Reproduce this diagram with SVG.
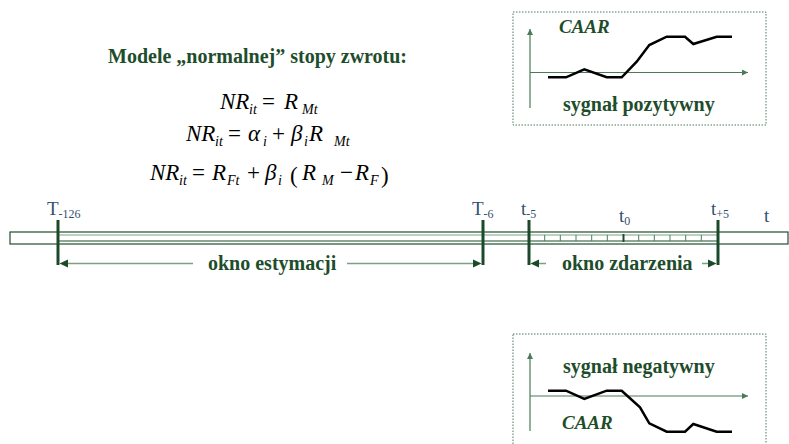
<svg xmlns="http://www.w3.org/2000/svg" width="789" height="444" viewBox="0 0 789 444">
<defs>
<style>
.g{fill:#1e4d2b;font-family:"Liberation Serif","Times New Roman",serif;font-weight:bold}
.m{fill:#000;font-family:"Liberation Serif","Times New Roman",serif;font-style:italic}
.ms{font-size:23px}
.up{font-style:normal}
.sb{font-size:14px}
.lb{fill:#34506f;font-family:"Liberation Serif","Times New Roman",serif}
.box{fill:none;stroke:#4a7a58;stroke-width:1;stroke-dasharray:1.5 1.5}
.ax{fill:none;stroke:#4a7a58;stroke-width:1.2}
.curve{fill:none;stroke:#000;stroke-width:2.5;stroke-linejoin:miter}
.mk{stroke:#1a4a2a;stroke-width:3}
.al{stroke:#7f9f85;stroke-width:1.5}
.ah{fill:#1a4a2a}
.bar{fill:none;stroke:#1f4f2f;stroke-width:1.2}
.bar2{fill:none;stroke:#7f9f85;stroke-width:1.2}
.tk{stroke:#4f7a5a;stroke-width:1}
</style>
<marker id="axa" markerWidth="8" markerHeight="8" refX="6" refY="3" orient="auto" markerUnits="userSpaceOnUse">
<path d="M0,0 L6,3 L0,6 z" fill="#4a7a58"/>
</marker>
</defs>

<g id="title">
<text class="g" x="108" y="63" font-size="20">Modele „normalnej” stopy zwrotu:</text>
</g>

<g id="eq1" class="m">
<text class="ms" x="220" y="109">NR</text>
<text class="sb" x="249" y="114">it</text>
<text class="ms up" x="262" y="109">=</text>
<text class="ms" x="284" y="109">R</text>
<text class="sb" x="302" y="114">Mt</text>
</g>

<g id="eq2" class="m">
<text class="ms" x="186" y="141">NR</text>
<text class="sb" x="215" y="146">it</text>
<text class="ms up" x="228" y="141">=</text>
<text class="ms" x="248" y="141">α</text>
<text class="sb" x="263" y="146">i</text>
<text class="ms up" x="272" y="141">+</text>
<text class="ms" x="291" y="141">β</text>
<text class="sb" x="304" y="146">i</text>
<text class="ms" x="309" y="141">R</text>
<text class="sb" x="334" y="146">Mt</text>
</g>

<g id="eq3" class="m">
<text class="ms" x="150" y="180">NR</text>
<text class="sb" x="179" y="185">it</text>
<text class="ms up" x="192" y="180">=</text>
<text class="ms" x="212" y="180">R</text>
<text class="sb" x="227" y="185">Ft</text>
<text class="ms up" x="247" y="180">+</text>
<text class="ms" x="265" y="180">β</text>
<text class="sb" x="278" y="185">i</text>
<text class="ms up" x="290" y="183" font-size="27">(</text>
<text class="ms" x="302" y="180">R</text>
<text class="sb" x="322" y="185">M</text>
<text class="ms up" x="340" y="180">−</text>
<text class="ms" x="355" y="180">R</text>
<text class="sb" x="370" y="185">F</text>
<text class="ms up" x="381" y="183" font-size="27">)</text>
</g>

<g id="pos-box">
<rect class="box" x="513" y="12" width="253" height="113"/>
<line class="ax" x1="530" y1="108" x2="530" y2="29" marker-end="url(#axa)"/>
<line class="ax" x1="530" y1="72.5" x2="748" y2="72.5" marker-end="url(#axa)"/>
<polyline class="curve" points="548,77.3 566,77.3 584.3,69.3 606.7,77.3 621.7,77.3 636.7,61.7 649.3,45 666.7,36.7 685,36.7 693.3,44 716.7,36.7 732,36.7"/>
<text class="g" x="559" y="33" font-size="19" font-style="italic">CAAR</text>
<text class="g" x="563" y="111" font-size="20">sygnał pozytywny</text>
</g>

<g id="neg-box">
<rect class="box" x="513" y="334" width="253" height="120"/>
<line class="ax" x1="530" y1="431" x2="530" y2="353" marker-end="url(#axa)"/>
<line class="ax" x1="530" y1="396" x2="748" y2="396" marker-end="url(#axa)"/>
<polyline class="curve" points="548,390.7 566,390.7 584.3,399 606.7,390.7 621.7,390.7 640,407.3 649.3,423.3 666.7,431.7 685,431.7 693.3,424 716.7,431.7 732,431.7"/>
<text class="g" x="563" y="373" font-size="20">sygnał negatywny</text>
<text class="g" x="562" y="429" font-size="19" font-style="italic">CAAR</text>
</g>

<g id="timeline">
<rect class="bar" x="10" y="232" width="778" height="12"/>
<line class="bar2" x1="58" y1="235" x2="718" y2="235"/>
<line class="bar" x1="58" y1="241" x2="718" y2="241"/>
<g class="tk">
<line x1="544.7" y1="235" x2="544.7" y2="241"/>
<line x1="560.3" y1="235" x2="560.3" y2="241"/>
<line x1="576" y1="235" x2="576" y2="241"/>
<line x1="591.7" y1="235" x2="591.7" y2="241"/>
<line x1="607.3" y1="235" x2="607.3" y2="241"/>
<line x1="638.7" y1="235" x2="638.7" y2="241"/>
<line x1="654.3" y1="235" x2="654.3" y2="241"/>
<line x1="670" y1="235" x2="670" y2="241"/>
<line x1="685.7" y1="235" x2="685.7" y2="241"/>
<line x1="701.3" y1="235" x2="701.3" y2="241"/>
</g>
<line x1="623.5" y1="234" x2="623.5" y2="242" stroke="#1a4a2a" stroke-width="2"/>
</g>

<g id="markers">
<line class="mk" x1="58" y1="220" x2="58" y2="265"/>
<line class="mk" x1="483" y1="220" x2="483" y2="265"/>
<line class="mk" x1="529" y1="220" x2="529" y2="265"/>
<line class="mk" x1="718" y1="220" x2="718" y2="265"/>
</g>

<g id="labels" class="lb">
<text x="47" y="215" font-size="19">T<tspan font-size="12" dy="3">-126</tspan></text>
<text x="472" y="215" font-size="19">T<tspan font-size="12" dy="3">-6</tspan></text>
<text x="521" y="215" font-size="19">t<tspan font-size="12" dy="3">-5</tspan></text>
<text x="619" y="222" font-size="19">t<tspan font-size="12" dy="3">0</tspan></text>
<text x="711" y="215" font-size="19">t<tspan font-size="12" dy="3">+5</tspan></text>
<text x="764" y="222" font-size="19">t</text>
</g>

<g id="connectors">
<line class="al" x1="66" y1="263.5" x2="193" y2="263.5"/>
<path class="ah" d="M59.5,263.5 L68,259.5 L68,267.5 z"/>
<line class="al" x1="347" y1="263.5" x2="474" y2="263.5"/>
<path class="ah" d="M481.5,263.5 L473,259.5 L473,267.5 z"/>
<line class="al" x1="537" y1="263.5" x2="546" y2="263.5"/>
<path class="ah" d="M530.5,263.5 L539,259.5 L539,267.5 z"/>
<line class="al" x1="702" y1="263.5" x2="710" y2="263.5"/>
<path class="ah" d="M716.5,263.5 L708,259.5 L708,267.5 z"/>
</g>

<g id="window-labels">
<text class="g" x="208" y="270" font-size="20">okno estymacji</text>
<text class="g" x="562" y="270" font-size="20">okno zdarzenia</text>
</g>
</svg>
